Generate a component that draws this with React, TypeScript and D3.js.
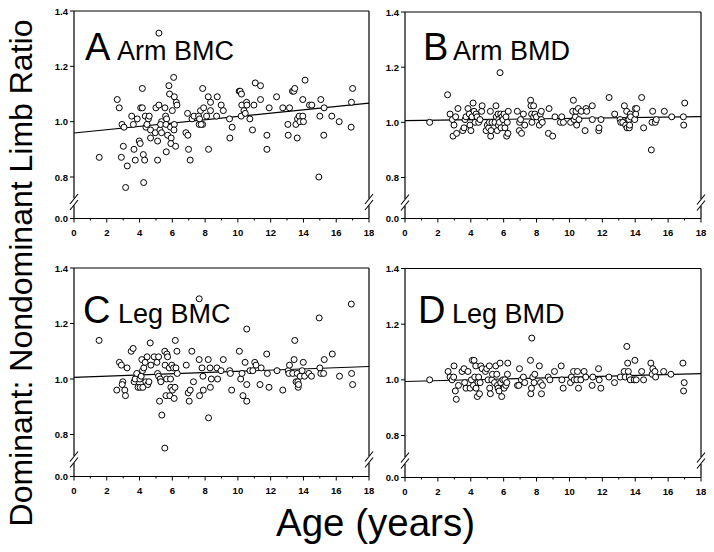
import React from "react";
import * as d3 from "d3";

// ---- data: [age (years), dominant:nondominant ratio] ----
const armBMC: [number, number][] = [
  [1.54,0.871],[5.18,1.32],[2.64,1.08],[2.76,1.05],[2.93,0.99],[3.05,0.98],[3.01,0.911],[2.89,0.871],[3.25,0.84],[3.15,0.762],
  [3.52,1.02],[3.62,0.99],[3.86,1.01],[3.66,0.90],[3.74,0.861],[3.98,0.93],[4.04,0.921],[4.17,1.12],[4.07,1.05],[4.17,1.05],
  [4.23,0.881],[4.31,0.861],[4.25,0.78],[4.35,1.02],[4.39,0.98],[4.54,1.01],[4.59,1.02],[4.45,0.99],[4.67,0.97],[4.67,0.941],
  [4.96,0.96],[5.0,1.05],[5.18,1.06],[5.1,0.93],[5.1,0.861],[5.24,0.97],[5.34,1.0],[5.34,0.96],[5.28,0.99],[5.55,1.05],
  [5.59,1.02],[5.65,1.01],[5.61,0.99],[5.71,0.951],[5.63,0.891],[5.79,1.13],[5.83,1.10],[5.89,0.98],[5.93,0.941],[5.91,0.921],
  [6.0,1.04],[6.08,1.16],[6.12,1.09],[6.12,0.99],[6.1,0.97],[6.2,0.911],[6.24,1.07],[6.28,1.06],[6.93,1.03],[6.83,0.96],
  [6.95,0.951],[6.99,0.90],[7.09,0.861],[7.2,1.01],[7.32,1.02],[7.6,1.02],[7.64,0.99],[7.66,1.01],[7.72,1.04],[7.85,1.12],
  [7.91,1.05],[7.85,0.99],[7.76,0.99],[8.09,1.02],[8.21,0.90],[8.19,1.09],[8.33,1.07],[8.33,1.04],[8.74,1.09],[8.7,1.02],
  [8.98,1.06],[9.11,1.04],[9.49,1.01],[9.51,0.941],[9.65,0.98],[10.08,1.11],[10.14,1.11],[10.22,1.10],[10.2,1.02],[10.24,1.06],
  [10.37,1.04],[10.45,1.03],[10.53,1.07],[10.55,1.06],[10.73,1.01],[10.89,0.97],[10.98,1.06],[11.06,1.14],[11.38,1.13],[11.38,1.08],
  [11.77,0.951],[11.77,0.90],[11.91,1.05],[12.36,1.09],[12.74,1.05],[13.05,0.99],[13.07,0.951],[13.15,1.05],[13.33,1.11],[13.41,1.11],
  [13.47,1.12],[13.54,0.99],[13.62,0.941],[13.64,1.01],[13.74,1.02],[13.78,1.0],[13.96,1.08],[13.96,1.02],[14.0,1.0],[14.1,1.15],
  [14.37,1.06],[14.51,1.06],[14.94,0.80],[15.0,1.02],[15.06,1.08],[15.24,0.951],[15.26,1.05],[15.73,1.02],[16.18,1.0],[16.93,1.07],
  [17.0,1.12],[16.91,0.98],
];

const armBMD: [number, number][] = [
  [1.5,1.0],[2.59,1.10],[2.74,1.03],[2.88,1.01],[2.98,0.99],[2.92,0.95],[3.08,1.02],[3.14,0.96],[3.22,1.05],[3.51,0.97],
  [3.59,0.98],[3.65,1.01],[3.71,1.02],[3.83,1.05],[3.91,1.03],[3.95,0.99],[4.01,0.97],[4.07,1.02],[4.14,1.07],[4.2,1.04],
  [4.26,1.0],[4.32,1.03],[4.38,1.02],[4.48,1.0],[4.56,1.01],[4.66,1.04],[4.69,1.06],[4.93,0.97],[5.01,0.99],[5.09,0.98],
  [5.13,1.0],[5.19,1.04],[5.21,0.95],[5.23,0.97],[5.29,1.0],[5.47,1.0],[5.53,1.06],[5.55,1.02],[5.61,0.97],[5.66,1.03],
  [5.68,0.99],[5.7,1.01],[5.74,1.0],[5.78,1.18],[5.82,1.03],[5.84,0.98],[5.9,1.02],[5.96,1.01],[6.02,1.03],[6.08,0.98],
  [6.14,1.02],[6.18,0.95],[6.22,1.0],[6.26,0.96],[6.28,1.04],[6.83,1.04],[6.95,0.97],[6.97,1.0],[7.03,1.01],[7.09,0.96],
  [7.2,1.03],[7.28,0.99],[7.64,1.08],[7.66,1.06],[7.7,1.03],[7.72,1.0],[7.82,1.06],[7.82,1.02],[7.9,1.03],[7.99,1.02],
  [8.17,0.99],[8.23,1.03],[8.29,1.04],[8.29,1.01],[8.35,1.0],[8.72,0.96],[8.76,1.05],[8.98,0.95],[9.12,1.02],[9.45,1.0],
  [9.53,1.02],[9.63,1.0],[10.07,1.0],[10.2,1.04],[10.24,1.08],[10.28,1.01],[10.36,1.02],[10.4,1.04],[10.44,0.99],[10.54,1.05],
  [10.58,1.01],[10.72,1.04],[10.95,0.97],[11.01,1.05],[11.05,1.04],[11.39,1.06],[11.39,1.01],[11.78,0.97],[11.8,0.98],[11.92,1.01],
  [12.41,1.09],[12.75,1.03],[13.08,1.01],[13.12,1.0],[13.24,1.0],[13.34,1.06],[13.42,0.99],[13.48,1.04],[13.5,0.98],[13.56,1.01],
  [13.62,1.01],[13.64,0.98],[13.66,0.99],[13.7,1.03],[13.72,1.02],[13.97,1.01],[14.01,1.05],[14.03,1.03],[14.09,1.05],[14.39,1.09],
  [14.51,0.98],[14.98,0.90],[15.06,1.04],[15.02,1.0],[15.22,1.0],[15.28,1.01],[15.77,1.04],[16.22,1.02],[16.93,1.02],[16.95,0.99],
  [17.01,1.07],
];

const legBMC: [number, number][] = [
  [1.53,1.139],[2.61,0.96],[2.77,1.06],[2.89,1.05],[2.98,0.99],[2.94,0.98],[3.1,0.96],[3.14,0.94],[3.24,1.04],[3.49,1.10],
  [3.61,1.11],[3.67,0.99],[3.73,1.0],[3.83,1.02],[3.91,0.97],[4.04,0.97],[4.02,1.0],[4.1,1.01],[4.14,1.07],[4.18,1.03],
  [4.2,0.97],[4.26,1.04],[4.34,1.06],[4.38,0.99],[4.46,1.08],[4.5,0.98],[4.57,0.99],[4.65,1.13],[4.69,1.05],[4.89,1.08],
  [5.06,1.06],[5.1,1.02],[5.16,1.08],[5.22,0.92],[5.16,1.01],[5.26,1.0],[5.3,0.99],[5.36,0.87],[5.54,0.751],[5.54,1.10],
  [5.56,1.05],[5.61,0.94],[5.65,1.0],[5.67,1.09],[5.71,1.08],[5.81,1.04],[5.85,0.94],[5.89,1.0],[5.91,0.97],[5.97,1.05],
  [6.01,0.96],[6.07,1.04],[6.11,0.93],[6.16,0.97],[6.18,1.139],[6.22,1.04],[6.28,1.10],[6.3,1.02],[6.85,1.05],[6.97,0.95],
  [7.03,0.92],[7.09,0.96],[7.19,1.10],[7.29,0.99],[7.64,1.07],[7.66,0.94],[7.64,1.289],[7.81,1.04],[7.87,1.01],[7.89,0.96],
  [8.19,1.07],[8.21,0.86],[8.3,1.04],[8.32,0.97],[8.38,1.0],[8.72,1.04],[8.76,1.0],[8.97,1.03],[9.11,1.07],[9.5,1.03],
  [9.54,1.02],[9.62,0.96],[10.09,1.10],[10.17,1.0],[10.25,1.02],[10.31,0.94],[10.44,1.06],[10.54,0.98],[10.54,0.92],[10.54,1.18],
  [10.74,1.03],[10.91,1.03],[11.03,1.06],[11.11,1.05],[11.35,0.98],[11.42,1.04],[11.76,1.09],[11.8,1.02],[11.9,0.97],[12.39,1.03],
  [12.74,0.96],[13.07,1.03],[13.11,1.02],[13.15,1.05],[13.35,1.02],[13.43,1.07],[13.47,1.139],[13.55,0.99],[13.62,1.02],[13.66,0.99],
  [13.68,0.97],[13.7,0.98],[13.8,1.01],[13.92,1.03],[13.99,1.06],[14.07,1.01],[14.33,1.02],[14.49,1.01],[14.96,1.22],[15.0,1.04],
  [15.06,1.02],[15.23,1.02],[15.27,1.07],[15.76,1.09],[16.2,1.01],[16.92,1.27],[16.94,1.02],[17.0,0.98],
];

const legBMD: [number, number][] = [
  [1.5,1.0],[2.62,1.03],[2.74,1.01],[2.86,1.0],[2.96,1.01],[2.98,1.05],[3.06,0.96],[3.12,0.93],[3.25,0.98],[3.47,1.03],
  [3.59,1.04],[3.63,0.99],[3.71,0.97],[3.83,1.03],[3.96,0.97],[4.04,1.0],[4.1,1.07],[4.16,0.98],[4.2,1.07],[4.24,1.01],
  [4.3,1.05],[4.32,0.97],[4.4,0.94],[4.44,0.99],[4.48,1.01],[4.53,0.95],[4.57,0.99],[4.61,1.05],[4.69,1.04],[4.89,1.03],
  [4.97,1.04],[5.05,1.0],[5.13,1.05],[5.15,0.97],[5.19,0.95],[5.28,1.0],[5.32,1.02],[5.44,0.99],[5.52,1.05],[5.58,1.02],
  [5.62,0.98],[5.66,0.97],[5.72,0.96],[5.78,1.06],[5.82,0.99],[5.88,0.94],[5.95,1.0],[6.03,0.97],[6.07,1.0],[6.13,0.98],
  [6.19,0.99],[6.23,1.02],[6.25,1.06],[6.84,0.98],[6.92,0.98],[6.96,1.04],[7.08,1.0],[7.2,1.01],[7.28,0.99],[7.63,1.07],
  [7.65,0.95],[7.71,1.15],[7.69,0.97],[7.77,1.01],[7.85,0.99],[7.89,1.02],[8.17,1.05],[8.24,0.99],[8.3,0.95],[8.36,0.98],
  [8.71,1.01],[8.81,1.0],[9.09,1.03],[9.5,1.05],[9.54,1.0],[9.62,0.97],[10.06,0.99],[10.12,1.01],[10.25,1.03],[10.29,1.0],
  [10.45,1.0],[10.49,1.03],[10.55,0.97],[10.69,1.0],[10.89,1.03],[10.99,1.01],[11.38,0.98],[11.42,1.01],[11.77,1.04],[11.81,1.0],
  [11.91,0.97],[12.4,1.01],[12.74,0.99],[13.09,1.01],[13.33,1.03],[13.39,1.01],[13.49,1.12],[13.54,1.06],[13.58,1.03],[13.64,1.01],
  [13.7,1.0],[13.94,1.0],[13.98,1.07],[14.06,1.0],[14.39,1.03],[14.51,1.0],[14.95,1.06],[15.03,1.02],[15.07,1.04],[15.2,1.03],
  [15.24,1.01],[15.73,1.03],[16.17,1.02],[16.9,1.06],[16.98,0.99],[16.94,0.96],
];

// regression line end values at age 0 and age 18
const armBMCFit = [0.959, 1.067];
const armBMDFit = [1.006, 1.021];
const legBMCFit = [1.006, 1.045];
const legBMDFit = [0.994, 1.022];

const xTicks = [0, 2, 4, 6, 8, 10, 12, 14, 16, 18];
const xMinorTicks = [1, 3, 5, 7, 9, 11, 13, 15, 17];
const yTicks = [0.8, 1.0, 1.2, 1.4];
const panelLetters = ["A", "B", "C", "D"];
const panelNames = ["Arm BMC", "Arm BMD", "Leg BMC", "Leg BMD"];
const yTitle = "Dominant: Nondominant Limb Ratio";
const xTitle = "Age (years)";

// ---- layout ----
const W = 714, H = 552;
const FONT = "'Liberation Sans', Arial, Helvetica, sans-serif";

const layouts = [
  { left: 74, right: 369, y14: 11, y08: 177, y00: 218.5, letterX: 85, nameX: 117, base: 60 },
  { left: 405, right: 701, y14: 12, y08: 177.5, y00: 218.5, letterX: 423, nameX: 453, base: 60 },
  { left: 74, right: 369, y14: 268, y08: 434.5, y00: 476.5, letterX: 83, nameX: 118, base: 323 },
  { left: 405, right: 701, y14: 268.5, y08: 435.5, y00: 477.5, letterX: 418, nameX: 452, base: 323 },
];

const series = [armBMC, armBMD, legBMC, legBMD];
const fits = [armBMCFit, armBMDFit, legBMCFit, legBMDFit];

function Panel({ i }: { i: number }) {
  const L = layouts[i];
  const x = d3.scaleLinear().domain([0, 18]).range([L.left, L.right]);
  const y = d3.scaleLinear().domain([0.8, 1.4]).range([L.y08, L.y14]);
  const yb = L.y08 + 25; // axis break centre
  const line = d3.line<[number, number]>().x((d) => x(d[0])).y((d) => y(d[1]));
  const fitPts: [number, number][] = [[0, fits[i][0]], [18, fits[i][1]]];
  const sw = 1.2;
  const breakMarks = (bx: number) => (
    <g>
      <line x1={bx} x2={bx} y1={yb - 3.5} y2={yb + 3.5} stroke="#fff" strokeWidth={4} />
      <line x1={bx - 4} y1={yb + 2} x2={bx + 4} y2={yb - 8} stroke="#000" strokeWidth={1.1} />
      <line x1={bx - 4} y1={yb + 8} x2={bx + 4} y2={yb - 2} stroke="#000" strokeWidth={1.1} />
    </g>
  );
  return (
    <g>
      {/* frame */}
      <g stroke="#000" strokeWidth={sw} fill="none">
        <line x1={L.left} x2={L.right} y1={L.y14} y2={L.y14} />
        <line x1={L.left} x2={L.right} y1={L.y00} y2={L.y00} />
        <line x1={L.left} x2={L.left} y1={L.y14} y2={L.y00} />
        <line x1={L.right} x2={L.right} y1={L.y14} y2={L.y00} />
      </g>
      {breakMarks(L.left)}
      {breakMarks(L.right)}
      {/* x ticks */}
      {xTicks.map((t) => (
        <g key={"xt" + t}>
          <line x1={x(t)} x2={x(t)} y1={L.y00} y2={L.y00 + 4} stroke="#000" strokeWidth={1} />
          <text x={x(t)} y={L.y00 + 17} textAnchor="middle" fontSize={9.5} fontWeight="bold" fontFamily={FONT}>
            {t}
          </text>
        </g>
      ))}
      {xMinorTicks.map((t) => (
        <line key={"xm" + t} x1={x(t)} x2={x(t)} y1={L.y00} y2={L.y00 + 2} stroke="#000" strokeWidth={1} />
      ))}
      {/* y ticks */}
      {yTicks.map((t) => (
        <g key={"yt" + t}>
          <line x1={L.left - 4} x2={L.left} y1={y(t)} y2={y(t)} stroke="#000" strokeWidth={1} />
          <text x={L.left - 6} y={y(t) + 3.5} textAnchor="end" fontSize={9.5} fontWeight="bold" fontFamily={FONT}>
            {t.toFixed(1)}
          </text>
        </g>
      ))}
      <line x1={L.left - 4} x2={L.left} y1={L.y00} y2={L.y00} stroke="#000" strokeWidth={1} />
      <text x={L.left - 6} y={L.y00 + 3.5} textAnchor="end" fontSize={9.5} fontWeight="bold" fontFamily={FONT}>
        0.0
      </text>
      {/* regression line */}
      <path d={line(fitPts) || ""} stroke="#000" strokeWidth={1.2} fill="none" />
      {/* points */}
      {series[i].map((d, k) => (
        <circle key={k} cx={x(d[0])} cy={y(d[1])} r={3} fill="#fff" stroke="#000" strokeWidth={1} />
      ))}
      {/* title */}
      <text x={L.letterX} y={L.base} fontSize={38} fontFamily={FONT}>
        {panelLetters[i]}
      </text>
      <text x={L.nameX} y={L.base} fontSize={27} fontFamily={FONT}>
        {panelNames[i]}
      </text>
    </g>
  );
}

export default function App() {
  return (
    <svg
      width={W}
      height={H}
      viewBox={`0 0 ${W} ${H}`}
      style={{ position: "absolute", left: 0, top: 0, background: "#fff" }}
    >
      <rect width={W} height={H} fill="#fff" />
      {layouts.map((_, i) => (
        <Panel key={i} i={i} />
      ))}
      <text
        transform="translate(32,273) rotate(-90)"
        textAnchor="middle"
        fontSize={32}
        fontFamily={FONT}
      >
        {yTitle}
      </text>
      <text x={375.5} y={536} textAnchor="middle" fontSize={38.5} fontFamily={FONT}>
        {xTitle}
      </text>
    </svg>
  );
}
